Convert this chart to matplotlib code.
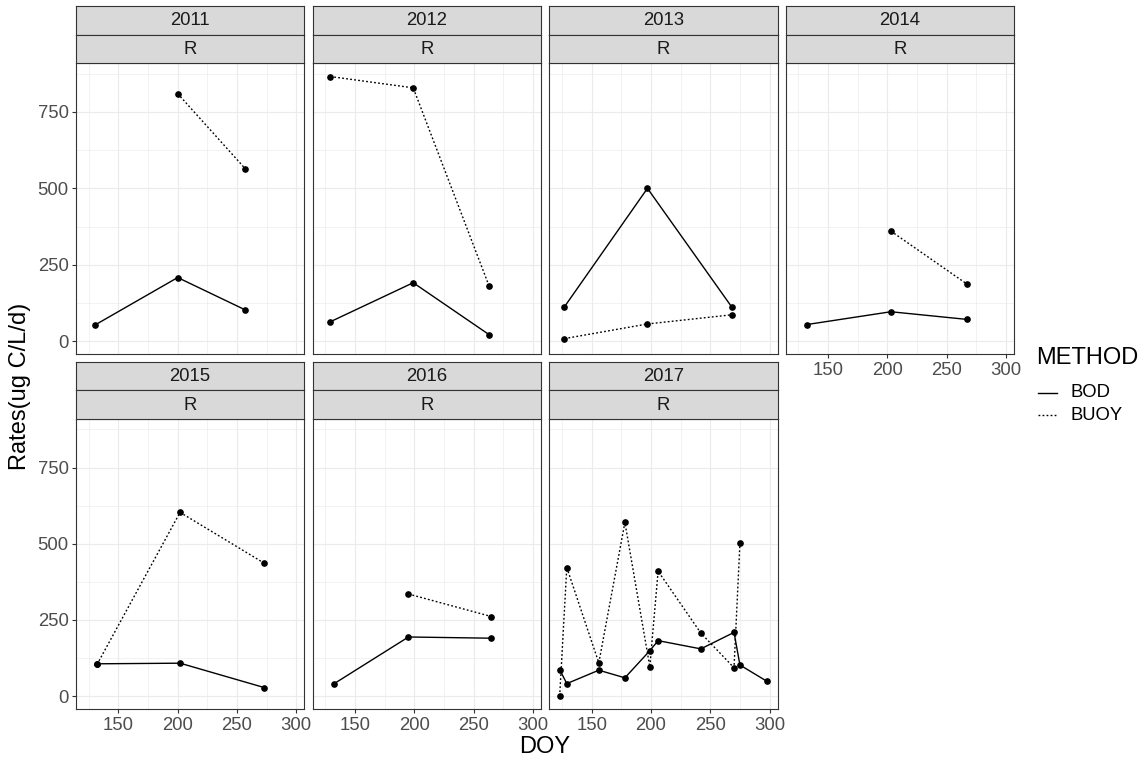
import matplotlib
matplotlib.use("Agg")
import matplotlib.pyplot as plt
from matplotlib.lines import Line2D

plt.rcParams['font.family'] = ['Liberation Sans', 'DejaVu Sans']

# ---------------- data ----------------
years = ["2011", "2012", "2013", "2014", "2015", "2016", "2017"]
site = "R"

bod_doy_2011 = [130, 200, 257]
bod_val_2011 = [52, 208, 102]
buoy_doy_2011 = [200, 257]
buoy_val_2011 = [810, 564]

bod_doy_2012 = [129, 199, 263]
bod_val_2012 = [63, 191, 21]
buoy_doy_2012 = [129, 199, 263]
buoy_val_2012 = [866, 829, 180]

bod_doy_2013 = [127, 197, 268]
bod_val_2013 = [112, 500, 112]
buoy_doy_2013 = [127, 197, 268]
buoy_val_2013 = [8, 56, 86]

bod_doy_2014 = [132, 203, 267]
bod_val_2014 = [54, 96, 71]
buoy_doy_2014 = [203, 267]
buoy_val_2014 = [360, 187]

bod_doy_2015 = [132, 202, 273]
bod_val_2015 = [106, 108, 28]
buoy_doy_2015 = [132, 202, 273]
buoy_val_2015 = [104, 603, 436]

bod_doy_2016 = [132, 195, 265]
bod_val_2016 = [40, 194, 190]
buoy_doy_2016 = [195, 265]
buoy_val_2016 = [335, 261]

bod_doy_2017 = [123, 129, 156, 178, 199, 206, 242, 270, 275, 298]
bod_val_2017 = [87, 41, 85, 60, 149, 182, 155, 209, 102, 48]
buoy_doy_2017 = [123, 129, 156, 178, 199, 206, 242, 270, 275]
buoy_val_2017 = [0, 422, 109, 570, 96, 410, 207, 93, 503]

x_ticks = [150, 200, 250, 300]
y_ticks = [0, 250, 500, 750]
methods = ["BOD", "BUOY"]

bod_doy = [bod_doy_2011, bod_doy_2012, bod_doy_2013, bod_doy_2014, bod_doy_2015, bod_doy_2016, bod_doy_2017]
bod_val = [bod_val_2011, bod_val_2012, bod_val_2013, bod_val_2014, bod_val_2015, bod_val_2016, bod_val_2017]
buoy_doy = [buoy_doy_2011, buoy_doy_2012, buoy_doy_2013, buoy_doy_2014, buoy_doy_2015, buoy_doy_2016, buoy_doy_2017]
buoy_val = [buoy_val_2011, buoy_val_2012, buoy_val_2013, buoy_val_2014, buoy_val_2015, buoy_val_2016, buoy_val_2017]

# ---------------- layout ----------------
W, H = 1147, 764
fig = plt.figure(figsize=(W / 100, H / 100), dpi=100)
fig.patch.set_facecolor("white")

all_x = [v for l in bod_doy + buoy_doy for v in l]
all_y = [v for l in bod_val + buoy_val for v in l]
xr = max(all_x) - min(all_x)
yr = max(all_y) - min(all_y)
xlim = (min(all_x) - 0.05 * xr, max(all_x) + 0.05 * xr)
ylim = (min(all_y) - 0.05 * yr, max(all_y) + 0.05 * yr)

col_left = [76, 312.7, 549.3, 785.6]
pw = 228.3
rows = [dict(strip_top=6, panel_top=63.3, panel_bot=354.3),
        dict(strip_top=361.7, panel_top=419.0, panel_bot=709.3)]

DARK = "#333333"
GRID = "#EBEBEB"
TXT = "#4D4D4D"
SMALL = 13.3
BIG = 17


def add_ax(left, top, w, h):
    return fig.add_axes([left / W, 1 - (top + h) / H, w / W, h / H])


dotted = (0, (1.3, 1.6))

for i, yr_lab in enumerate(years):
    r, c = divmod(i, 4)
    row = rows[r]
    left = col_left[c]
    ph = row["panel_bot"] - row["panel_top"]
    ax = add_ax(left, row["panel_top"], pw, ph)
    ax.set_xlim(*xlim)
    ax.set_ylim(*ylim)
    ax.set_xticks(x_ticks)
    ax.set_yticks(y_ticks)
    ax.set_xticks([125, 175, 225, 275], minor=True)
    ax.set_yticks([125, 375, 625, 875], minor=True)
    ax.grid(True, which="major", color=GRID, lw=0.85, zorder=0)
    ax.grid(True, which="minor", color=GRID, lw=0.45, zorder=0)
    ax.set_axisbelow(True)
    for s in ax.spines.values():
        s.set_color(DARK)
        s.set_linewidth(0.8)
    ax.tick_params(which="minor", length=0)
    ax.tick_params(which="major", color=DARK, width=0.8, length=3.2,
                   labelcolor=TXT, labelsize=SMALL, pad=2)
    show_x = (r == 1) or (i == 3)
    show_y = (c == 0)
    ax.tick_params(axis="x", bottom=show_x, labelbottom=show_x)
    ax.tick_params(axis="y", left=show_y, labelleft=show_y)

    ax.plot(bod_doy[i], bod_val[i], color="black", lw=1.0, ls="-",
            marker="o", ms=3.8, zorder=3)
    ax.plot(buoy_doy[i], buoy_val[i], color="black", lw=1.0, ls=dotted,
            marker="o", ms=3.8, zorder=3)

    sh = (row["panel_top"] - row["strip_top"]) / 2
    for k, lab in enumerate([yr_lab, site]):
        sax = add_ax(left, row["strip_top"] + k * sh, pw, sh)
        sax.set_facecolor("#D9D9D9")
        sax.set_xticks([])
        sax.set_yticks([])
        for s in sax.spines.values():
            s.set_color(DARK)
            s.set_linewidth(0.8)
        sax.text(0.5, 0.48, lab, ha="center", va="center", fontsize=SMALL,
                 color="#1A1A1A", transform=sax.transAxes)

# axis titles
fig.text(545 / W, 1 - 747 / H, "DOY", ha="center", va="center", fontsize=BIG, color="black")
fig.text(20 / W, 1 - 386 / H, "Rates(ug C/L/d)", ha="center", va="center",
         rotation=90, fontsize=BIG, color="black")

# legend
fig.text(1036 / W, 1 - 358 / H, "METHOD", ha="left", va="center", fontsize=BIG, color="black")
leg_y = [392.7, 415.0]
leg_ls = ["-", dotted]
for yy, lab, ls in zip(leg_y, methods, leg_ls):
    fig.add_artist(Line2D([1037.7 / W, 1056.7 / W], [1 - yy / H, 1 - yy / H],
                          color="black", lw=1.0, ls=ls))
    fig.text(1071 / W, 1 - yy / H, lab, ha="left", va="center", fontsize=SMALL, color="black")

fig.savefig("out.png", dpi=100, facecolor="white")
